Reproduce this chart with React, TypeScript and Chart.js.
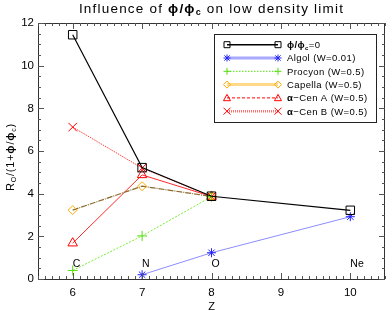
import React, { useEffect, useRef } from "react";
import { Chart, registerables } from "chart.js";
Chart.register(...registerables);

const FONT = '"Liberation Sans", Arial, Helvetica, sans-serif';

// ---- data ----
const elementNames = ["C", "N", "O", "Ne"];
const elementZ = [6, 7, 8, 10];
const phiZeroZ = [6, 7, 8, 10];
const phiZeroR = [11.45, 5.22, 3.88, 3.22];
const algolZ = [7, 8, 10];
const algolR = [0.2, 1.23, 2.92];
const procyonZ = [6, 7, 8];
const procyonR = [0.4, 2.02, 3.86];
const capellaZ = [6, 7, 8];
const capellaR = [3.23, 4.35, 3.87];
const cenAZ = [6, 7, 8];
const cenAR = [1.68, 4.88, 3.87];
const cenBZ = [6, 7, 8];
const cenBR = [7.12, 5.2, 3.87];
const xTicks = [6, 7, 8, 9, 10];
const yTicks = [0, 2, 4, 6, 8, 10, 12];

type Seg = { t: string; b?: boolean; sub?: boolean };

const legendItems: { segs: Seg[]; style: string; marker: string; line: string; width: number; dash: number[] }[] = [
  { segs: [{ t: "ϕ/ϕ", b: true }, { t: "c", b: true, sub: true }, { t: "=0" }], style: "rect", marker: "#000000", line: "#000000", width: 1.5, dash: [] },
  { segs: [{ t: "Algol (W=0.01)" }], style: "star", marker: "#2222ff", line: "#a8a8ff", width: 3, dash: [] },
  { segs: [{ t: "Procyon (W=0.5)" }], style: "cross", marker: "#55dd11", line: "#55dd11", width: 1, dash: [1.5, 1.5] },
  { segs: [{ t: "Capella (W=0.5)" }], style: "rectRot", marker: "#ffaa00", line: "#ffd888", width: 3, dash: [] },
  { segs: [{ t: "α", b: true }, { t: "−Cen A (W=0.5)" }], style: "triangle", marker: "#ff0000", line: "#ff0000", width: 1, dash: [3, 2] },
  { segs: [{ t: "α", b: true }, { t: "−Cen B (W=0.5)" }], style: "crossRot", marker: "#ff0000", line: "#ff7070", width: 2.5, dash: [1, 1] },
];

function segFont(s: Seg, size: number) {
  return `${s.b ? "bold " : ""}${s.sub ? Math.round(size * 0.65) : size}px ${FONT}`;
}
function richWidth(ctx: CanvasRenderingContext2D, segs: Seg[], size: number) {
  let w = 0;
  for (const s of segs) {
    ctx.font = segFont(s, size);
    w += ctx.measureText(s.t).width;
  }
  return w;
}
function drawRich(ctx: CanvasRenderingContext2D, segs: Seg[], x: number, y: number, size: number, align: "left" | "center") {
  const w = richWidth(ctx, segs, size);
  let cx = align === "center" ? x - w / 2 : x;
  ctx.textAlign = "left";
  ctx.textBaseline = "alphabetic";
  for (const s of segs) {
    ctx.font = segFont(s, size);
    ctx.fillText(s.t, cx, s.sub ? y + size * 0.22 : y);
    cx += ctx.measureText(s.t).width;
  }
}

function drawMarker(ctx: CanvasRenderingContext2D, style: string, x: number, y: number, r: number, color: string) {
  ctx.save();
  ctx.strokeStyle = color;
  ctx.lineWidth = 1;
  ctx.setLineDash([]);
  ctx.beginPath();
  if (style === "rect") {
    ctx.rect(x - r, y - r, 2 * r, 2 * r);
  } else if (style === "rectRot") {
    ctx.moveTo(x, y - r); ctx.lineTo(x + r, y); ctx.lineTo(x, y + r); ctx.lineTo(x - r, y); ctx.closePath();
  } else if (style === "triangle") {
    ctx.moveTo(x, y - r); ctx.lineTo(x + r, y + r * 0.8); ctx.lineTo(x - r, y + r * 0.8); ctx.closePath();
  } else if (style === "cross") {
    ctx.moveTo(x - r, y); ctx.lineTo(x + r, y); ctx.moveTo(x, y - r); ctx.lineTo(x, y + r);
  } else if (style === "crossRot") {
    ctx.moveTo(x - r, y - r); ctx.lineTo(x + r, y + r); ctx.moveTo(x + r, y - r); ctx.lineTo(x - r, y + r);
  } else if (style === "star") {
    ctx.moveTo(x - r, y); ctx.lineTo(x + r, y); ctx.moveTo(x, y - r); ctx.lineTo(x, y + r);
    const d = r * 0.75;
    ctx.moveTo(x - d, y - d); ctx.lineTo(x + d, y + d); ctx.moveTo(x + d, y - d); ctx.lineTo(x - d, y + d);
  }
  ctx.stroke();
  ctx.restore();
}

const decor = {
  id: "decor",
  afterDraw(chart: any) {
    const ctx: CanvasRenderingContext2D = chart.ctx;
    const { left, right, top, bottom } = chart.chartArea;
    const xs = chart.scales.x;
    const ys = chart.scales.y;
    ctx.save();
    // frame
    ctx.strokeStyle = "#333333";
    ctx.lineWidth = 1;
    ctx.setLineDash([]);
    ctx.beginPath();
    ctx.rect(Math.round(left) + 0.5, Math.round(top) + 0.5, Math.round(right - left) - 1, Math.round(bottom - top));
    ctx.stroke();
    // ticks
    ctx.strokeStyle = "#555555";
    ctx.beginPath();
    for (let i = 55; i <= 105; i++) {
      const v = i / 10;
      const px = Math.round(xs.getPixelForValue(v)) + 0.5;
      const len = i % 10 === 0 ? 6 : 3;
      ctx.moveTo(px, bottom); ctx.lineTo(px, bottom - len);
      ctx.moveTo(px, top); ctx.lineTo(px, top + len);
    }
    for (let i = 0; i <= 24; i++) {
      const v = i / 2;
      const py = Math.round(ys.getPixelForValue(v)) + 0.5;
      const len = i % 4 === 0 ? 6 : 3;
      ctx.moveTo(left, py); ctx.lineTo(left + len, py);
      ctx.moveTo(right, py); ctx.lineTo(right - len, py);
    }
    ctx.stroke();
    // element labels
    ctx.fillStyle = "#000000";
    ctx.font = `10.5px ${FONT}`;
    ctx.textAlign = "left";
    ctx.textBaseline = "alphabetic";
    elementNames.forEach((n, i) => {
      ctx.fillText(n, xs.getPixelForValue(elementZ[i]), ys.getPixelForValue(0.56));
    });
    // title
    const cx = (left + right) / 2;
    (ctx as any).letterSpacing = "1.2px";
    drawRich(ctx, [{ t: "Influence of " }, { t: "ϕ/ϕ", b: true }, { t: "c", b: true, sub: true }, { t: " on low density limit" }], cx, 12.5, 13.5, "center");
    (ctx as any).letterSpacing = "0px";
    // x title
    ctx.font = `11px ${FONT}`;
    ctx.textAlign = "center";
    ctx.fillText("Z", cx, 310);
    // y title
    ctx.save();
    ctx.translate(14, 157);
    ctx.rotate(-Math.PI / 2);
    (ctx as any).letterSpacing = "0.8px";
    drawRich(ctx, [{ t: "R" }, { t: "O", sub: true }, { t: "/(1+" }, { t: "ϕ", b: true }, { t: "/" }, { t: "ϕ", b: true }, { t: "c", sub: true }, { t: ")" }], 0, 0, 11, "center");
    (ctx as any).letterSpacing = "0px";
    ctx.restore();
    // legend
    const lx = 214, ly = 34, lw = 162, lh = 88;
    ctx.fillStyle = "#ffffff";
    ctx.fillRect(lx, ly, lw, lh);
    ctx.strokeStyle = "#222222";
    ctx.lineWidth = 1;
    ctx.strokeRect(lx + 0.5, ly + 0.5, lw, lh);
    legendItems.forEach((it, i) => {
      const y = 44.7 + i * 13.3;
      ctx.save();
      ctx.strokeStyle = it.line;
      ctx.lineWidth = it.width;
      ctx.setLineDash(it.dash);
      ctx.beginPath();
      ctx.moveTo(227, y); ctx.lineTo(278, y);
      ctx.stroke();
      ctx.restore();
      const r = it.style === "rect" ? 3 : 3.5;
      drawMarker(ctx, it.style, 227, y, r, it.marker);
      drawMarker(ctx, it.style, 278, y, r, it.marker);
      ctx.fillStyle = "#000000";
      (ctx as any).letterSpacing = "0.4px";
      drawRich(ctx, it.segs, 287, y + 3.4, 9.5, "left");
      (ctx as any).letterSpacing = "0px";
    });
    ctx.restore();
  },
};

function mk(zs: number[], rs: number[]) {
  return zs.map((z, i) => ({ x: z, y: rs[i] }));
}

export default function App() {
  const ref = useRef<HTMLCanvasElement>(null);
  useEffect(() => {
    const canvas = ref.current!;
    const common = { showLine: true, pointBackgroundColor: "rgba(0,0,0,0)", pointBorderWidth: 1, tension: 0 };
    const chart = new Chart(canvas, {
      type: "scatter",
      data: {
        datasets: [
          { ...common, data: mk(phiZeroZ, phiZeroR), borderColor: "#000000", borderWidth: 1.2, borderDash: [], pointStyle: "rect", pointRadius: 6, pointBorderColor: "#000000" },
          { ...common, data: mk(algolZ, algolR), borderColor: "#8c8cff", borderWidth: 1, pointStyle: "star", pointRadius: 4.5, pointBorderColor: "#2222ff" },
          { ...common, data: mk(procyonZ, procyonR), borderColor: "#77ee33", borderWidth: 1, borderDash: [2, 1.5], pointStyle: "cross", pointRadius: 5, pointBorderColor: "#55dd11" },
          { ...common, data: mk(capellaZ, capellaR), borderColor: "#8a6a2a", borderWidth: 1.2, borderDash: [6, 1, 1, 1], pointStyle: "rectRot", pointRadius: 4.5, pointBorderColor: "#ffaa00" },
          { ...common, data: mk(cenAZ, cenAR), borderColor: "#ff2a2a", borderWidth: 1, pointStyle: "triangle", pointRadius: 5.5, pointBorderColor: "#ff0000" },
          { ...common, data: mk(cenBZ, cenBR), borderColor: "#ff4040", borderWidth: 1, borderDash: [1.5, 1], pointStyle: "crossRot", pointRadius: 6, pointBorderColor: "#ff0000" },
        ],
      },
      options: {
        responsive: false,
        animation: false,
        devicePixelRatio: 1,
        events: [],
        layout: { padding: { top: 23, right: 1, left: 0, bottom: 0 } },
        plugins: { legend: { display: false }, title: { display: false }, tooltip: { enabled: false } },
        scales: {
          x: {
            type: "linear",
            min: 5.5,
            max: 10.5,
            afterBuildTicks: (s: any) => { s.ticks = xTicks.map((v) => ({ value: v })); },
            afterFit: (s: any) => { s.height = 32; },
            grid: { display: false, drawTicks: false },
            border: { display: false },
            ticks: { font: { family: FONT, size: 11.5 }, color: "#000000", padding: 7, maxRotation: 0, autoSkip: false },
          },
          y: {
            type: "linear",
            min: 0,
            max: 12,
            afterBuildTicks: (s: any) => { s.ticks = yTicks.map((v) => ({ value: v })); },
            afterFit: (s: any) => { s.width = 38; },
            grid: { display: false, drawTicks: false },
            border: { display: false },
            ticks: { font: { family: FONT, size: 11.5 }, color: "#000000", padding: 4, autoSkip: false },
          },
        },
      } as any,
      plugins: [decor],
    });
    return () => chart.destroy();
  }, []);
  return (
    <div style={{ position: "fixed", left: 0, top: 0, width: 392, height: 311, background: "#ffffff" }}>
      <canvas ref={ref} width={392} height={311} style={{ display: "block" }} />
    </div>
  );
}
